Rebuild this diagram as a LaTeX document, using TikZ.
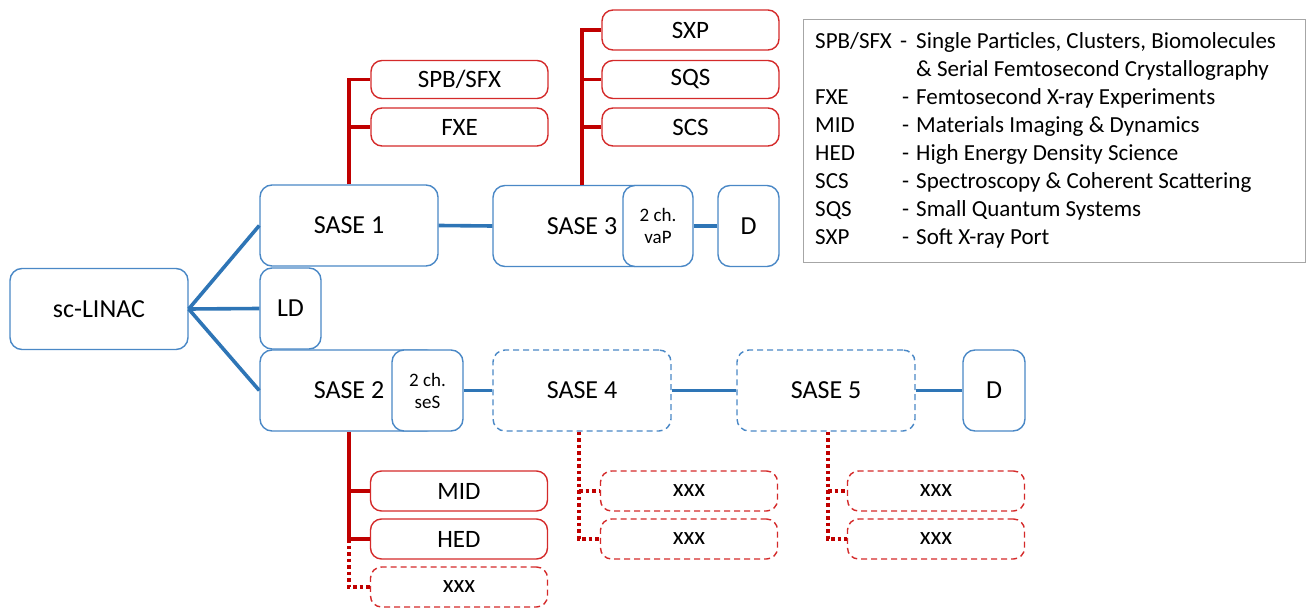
\documentclass[tikz,border=0pt]{standalone}
\usepackage{fontspec}
\setmainfont{Carlito}
\definecolor{bl}{HTML}{2E75B6}
\definecolor{blb}{HTML}{4A88C6}
\definecolor{rd}{HTML}{C00000}
\definecolor{rdb}{HTML}{D42A2A}
\definecolor{lg}{HTML}{A6A6A6}
\begin{document}
\begin{tikzpicture}[x=1pt,y=-1pt,
  bbox/.style={draw=blb, line width=1.4pt, rounded corners=12pt, fill=white, inner sep=0pt, minimum width=178pt, minimum height=81pt, font=\fontsize{26}{30}\selectfont},
  dbox/.style={bbox, dash pattern=on 6pt off 4pt},
  smallbox/.style={bbox, minimum width=70pt, align=center, font=\fontsize{19}{24}\selectfont},
  rbox/.style={draw=rdb, line width=1.4pt, rounded corners=11pt, fill=white, inner sep=0pt, minimum width=177pt, minimum height=38pt, font=\fontsize{25}{30}\selectfont},
  rdbox/.style={rbox, dash pattern=on 6pt off 4pt},
  conn/.style={draw=bl, line width=3.6pt},
  rline/.style={draw=rd, line width=3.4pt},
  rdot/.style={draw=rd, line width=3.6pt, dash pattern=on 3.5pt off 3pt},
  legtxt/.style={anchor=base west, inner sep=0pt, font=\fontsize{23}{28}\selectfont}
]
\useasboundingbox (0,0) rectangle (1309,609);

% blue nodes
\node[bbox] (linac) at (99,309) {sc-LINAC};
\node[bbox] (sase1) at (349,225.5) {SASE 1};
\node[bbox, minimum width=61pt] (ld) at (290.5,308.5) {LD};
\node[bbox] (sase2) at (349,390.5) {SASE 2};
\node[smallbox, minimum width=71pt] (ses) at (427.5,390.5) {2 ch.\\[-2pt]seS};
\node[bbox] (sase3) at (582,226) {SASE 3};
\node[smallbox] (vap) at (658,226) {2 ch.\\[-2pt]vaP};
\node[bbox, minimum width=61pt] (d1) at (748.5,226) {D};
\node[dbox] (sase4) at (582,390.5) {SASE 4};
\node[dbox] (sase5) at (826,390.5) {SASE 5};
\node[bbox, minimum width=62pt] (d2) at (994,390.5) {D};

% red nodes
\node[rbox] (spb) at (459.5,79.5) {SPB/SFX};
\node[rbox] (fxe) at (459.5,127) {FXE};
\node[rbox, minimum height=40pt] (sxp) at (690.5,30) {SXP};
\node[rbox] (sqs) at (690.5,79.5) {SQS};
\node[rbox] (scs) at (690.5,127) {SCS};
\node[rbox, minimum height=40pt] (mid) at (459,491) {MID};
\node[rbox, minimum height=40pt] (hed) at (459,539) {HED};
\node[rdbox, minimum height=40pt] (x1) at (459,587) {xxx};
\node[rdbox, minimum height=40pt] (x2) at (689,491) {xxx};
\node[rdbox, minimum height=40pt] (x3) at (689,539) {xxx};
\node[rdbox, minimum height=40pt] (x4) at (936,491) {xxx};
\node[rdbox, minimum height=40pt] (x5) at (936,539) {xxx};

% blue connectors
\draw[conn] (linac.east) -- (sase1.west);
\draw[conn] (linac.east) -- (ld.west);
\draw[conn] (linac.east) -- (sase2.west);
\draw[conn] (sase1.east) -- (sase3.west);
\draw[conn] (vap.east) -- (d1.west);
\draw[conn] (ses.east) -- (sase4.west);
\draw[conn] (sase4.east) -- (sase5.west);
\draw[conn] (sase5.east) -- (d2.west);

% red trees
\draw[rline] (sase1.north) -- (sase1.north |- spb.west) -- (spb.west);
\draw[rline] (sase1.north |- fxe.west) -- (fxe.west);
\draw[rline] (sase3.north) -- (sase3.north |- sxp.west) -- (sxp.west);
\draw[rline] (sase3.north |- sqs.west) -- (sqs.west);
\draw[rline] (sase3.north |- scs.west) -- (scs.west);
\draw[rline] (sase2.south) -- (sase2.south |- hed.west) -- (hed.west);
\draw[rline] (sase2.south |- mid.west) -- (mid.west);
\draw[rdot] (sase2.south |- hed.west) -- (sase2.south |- x1.west) -- (x1.west);
\coordinate (t4) at ([xshift=-3pt]sase4.south);
\draw[rdot] (t4) -- (t4 |- x3.west) -- (x3.west);
\draw[rdot] (t4 |- x2.west) -- (x2.west);
\coordinate (t5) at ([xshift=2pt]sase5.south);
\draw[rdot] (t5) -- (t5 |- x5.west) -- (x5.west);
\draw[rdot] (t5 |- x4.west) -- (x4.west);

% legend
\node[draw=lg, line width=1pt, minimum width=502pt, minimum height=243pt, inner sep=0pt, anchor=north west] (legend) at (803,19) {};
\node[legtxt] (a1) at (815,49) {SPB/SFX};
\node[legtxt] (h1) at (900,49) {-};
\node[legtxt] (d1t) at (916,49) {Single Particles, Clusters, Biomolecules};
\node[legtxt] (d1u) at (916,77) {\& Serial Femtosecond Crystallography};
\node[legtxt] (a2) at (815,105) {FXE};
\node[legtxt] (h2) at (902,105) {-};
\node[legtxt] (d2t) at (916,105) {Femtosecond X-ray Experiments};
\node[legtxt] (a3) at (815,133) {MID};
\node[legtxt] (h3) at (902,133) {-};
\node[legtxt] (d3t) at (916,133) {Materials Imaging \& Dynamics};
\node[legtxt] (a4) at (815,161) {HED};
\node[legtxt] (h4) at (902,161) {-};
\node[legtxt] (d4t) at (916,161) {High Energy Density Science};
\node[legtxt] (a5) at (815,189) {SCS};
\node[legtxt] (h5) at (902,189) {-};
\node[legtxt] (d5t) at (916,189) {Spectroscopy \& Coherent Scattering};
\node[legtxt] (a6) at (815,217) {SQS};
\node[legtxt] (h6) at (902,217) {-};
\node[legtxt] (d6t) at (916,217) {Small Quantum Systems};
\node[legtxt] (a7) at (815,245) {SXP};
\node[legtxt] (h7) at (902,245) {-};
\node[legtxt] (d7t) at (916,245) {Soft X-ray Port};
\end{tikzpicture}
\end{document}
